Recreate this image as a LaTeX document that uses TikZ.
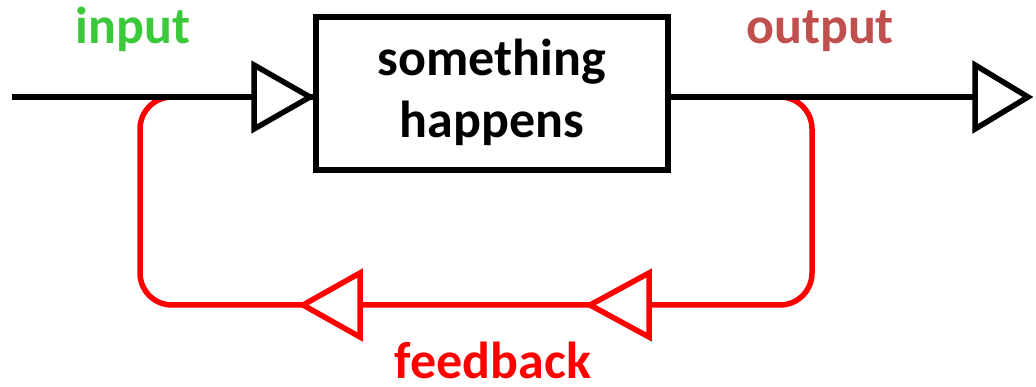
\documentclass[tikz,border=0pt]{standalone}
\usepackage{fontspec}
\setmainfont{Carlito}
\definecolor{ingreen}{RGB}{59,200,59}
\definecolor{outred}{RGB}{192,80,77}
\definecolor{fbred}{RGB}{255,0,0}
\tikzset{
  wire/.style={line width=5.5pt, line join=miter},
  fbwire/.style={wire, draw=fbred, rounded corners=32pt},
  tip/.style={line width=5.5pt, line join=miter, fill=white},
  procbox/.style={draw, line width=5.5pt, minimum width=352pt, minimum height=153pt, inner sep=0pt},
  lbl/.style={font=\fontsize{52}{62}\selectfont\bfseries, inner sep=0pt, anchor=base}
}
\begin{document}
\begin{tikzpicture}[x=1pt, y=-1pt]
  \useasboundingbox (0,0) rectangle (1036,387);

  % process block
  \node[procbox] (proc) at (492,93.5) {};
  \node[lbl] (proctop) at (492,76) {something};
  \node[lbl] (procbot) at (492,138) {happens};

  % signal points
  \coordinate (src)  at (12,97);
  \coordinate (sink) at (1028,97);
  \coordinate (tapout) at (783,97);
  \coordinate (tapin)  at (172,97);
  \coordinate (fbR) at (812,305);
  \coordinate (fbL) at (140,305);

  % feedback loop (drawn first, the main line covers its ends)
  \draw[fbwire] (tapout) -- (tapout -| fbR) -- (fbR) -- (fbL) -- (tapin -| fbL) -- (tapin);
  \draw[tip, draw=fbred] (649,273) -- (590,305) -- (649,337) -- cycle;
  \draw[tip, draw=fbred] (360,273) -- (303,305) -- (360,337) -- cycle;

  % main signal path
  \draw[wire] (src) -- (proc.west |- src);
  \draw[wire] (proc.east |- sink) -- (sink);
  \draw[tip] (254,65) -- (310,97) -- (254,129) -- cycle;
  \draw[tip] (975,65) -- (1028,97) -- (975,129) -- cycle;

  % labels
  \node[lbl, text=ingreen] (inlbl) at (133,44) {input};
  \node[lbl, text=outred] (outlbl) at (820,44) {output};
  \node[lbl, text=fbred] (fblbl) at (493,378) {feedback};
\end{tikzpicture}
\end{document}
